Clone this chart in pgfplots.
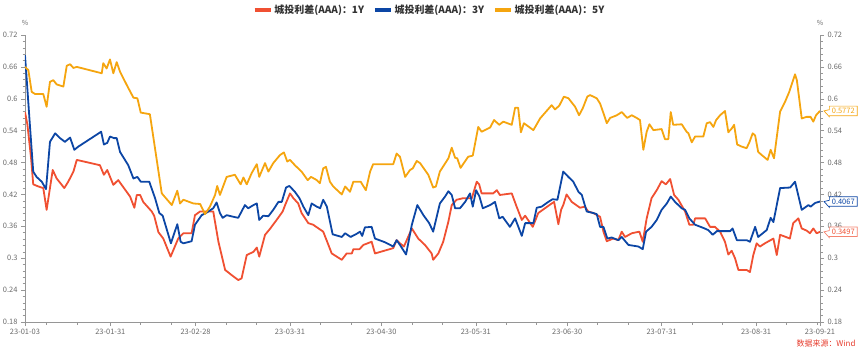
\documentclass[border=0pt]{standalone}
\usepackage{fontspec}
\setmainfont{Noto Sans CJK SC}
\usepackage{pgfplots}
\pgfplotsset{compat=1.18}
\usetikzlibrary{shapes.callouts}
\definecolor{redC}{RGB}{240,80,50}
\definecolor{blueC}{RGB}{12,70,165}
\definecolor{orangeC}{RGB}{245,165,15}
\definecolor{axisgray}{RGB}{150,150,150}
\definecolor{labelgray}{RGB}{105,105,105}
\definecolor{srcred}{RGB}{230,60,45}
\begin{document}
\begin{tikzpicture}
\useasboundingbox (0,0) rectangle (865bp,352bp);
\pgfplotsset{
  common/.style={
    at={(25bp,30bp)}, anchor=south west, scale only axis,
    width=795bp, height=287bp,
    xmin=0, xmax=261, ymin=0.18, ymax=0.72,
    ytick={0.18,0.24,0.3,0.36,0.42,0.48,0.54,0.6,0.66,0.72},
    yticklabels={0.18,0.24,0.3,0.36,0.42,0.48,0.54,0.6,0.66,0.72},
    minor y tick num=4,
    tick align=outside, major tick length=4bp, minor tick length=2.5bp,
    tick style={draw=axisgray, line width=0.5bp},
    axis line style={-, draw=axisgray, line width=0.6bp},
    tick label style={font=\fontsize{7.5}{8}\selectfont, text=labelgray},
    /pgf/number format/assume math mode=true,
  }
}
\begin{axis}[common,
  axis x line*=bottom, axis y line*=left,
  xtick={0,28,56,87,117,148,178,209,240,261},
  xticklabels={23-01-03,23-01-31,23-02-28,23-03-31,23-04-30,23-05-31,23-06-30,23-07-31,23-08-31,23-09-21},
  minor xtick={7,17,38,48,66,76,97,107,127,137,158,168,188,198,219,229,250,260},
  legend columns=3,
  legend style={draw=none, fill=none, at={(0.509,1.087)}, anchor=center,
    font=\fontsize{10}{12}\selectfont\bfseries, text=black!80,
    /tikz/every even column/.append style={column sep=7bp}},
  legend image code/.code={\draw[#1, line width=3.5bp] (0bp,0bp) -- (16bp,0bp);},
  every axis plot/.append style={line width=1.8bp, line join=round},
]
\addplot[redC] coordinates {(0,0.575)(0.8,0.551)(2.0,0.488)(2.7,0.439)(4.4,0.435)(6.0,0.432)(7.1,0.391)(9.1,0.466)(10.4,0.450)(12.9,0.432)(14.2,0.444)(15.9,0.463)(17.0,0.485)(24.6,0.475)(25.9,0.457)(27.0,0.466)(29.0,0.438)(30.6,0.447)(34.5,0.416)(35.9,0.395)(36.7,0.419)(37.8,0.419)(38.8,0.406)(41.6,0.388)(42.4,0.380)(43.8,0.349)(45.4,0.337)(47.8,0.303)(50.3,0.337)(52.0,0.347)(54.7,0.347)(55.8,0.381)(57.5,0.388)(61.8,0.388)(63.5,0.331)(65.7,0.278)(67.9,0.268)(70.0,0.259)(71.1,0.262)(72.8,0.306)(75.0,0.312)(76.1,0.320)(76.9,0.303)(78.8,0.344)(80.4,0.355)(82.6,0.372)(84.6,0.388)(85.4,0.400)(87.0,0.422)(88.1,0.413)(89.7,0.403)(90.8,0.385)(93.0,0.366)(94.6,0.363)(97.9,0.350)(99.0,0.334)(100.7,0.309)(104.0,0.297)(105.6,0.309)(107.3,0.309)(107.8,0.317)(109.8,0.317)(111.1,0.325)(113.8,0.331)(114.9,0.309)(120.9,0.319)(122.0,0.334)(123.1,0.328)(124.4,0.322)(127.0,0.356)(129.1,0.337)(131.3,0.325)(133.5,0.309)(134.0,0.297)(135.7,0.309)(137.3,0.331)(139.0,0.369)(140.1,0.400)(141.7,0.410)(143.9,0.413)(146.7,0.413)(148.3,0.444)(149.1,0.439)(149.9,0.422)(153.7,0.422)(154.9,0.428)(155.9,0.419)(159.8,0.422)(161.4,0.397)(163.1,0.372)(164.2,0.380)(166.7,0.359)(168.5,0.385)(170.7,0.394)(172.9,0.403)(173.7,0.406)(175.1,0.364)(176.0,0.391)(176.7,0.400)(177.8,0.420)(179.5,0.406)(182.2,0.395)(183.8,0.397)(184.9,0.388)(186.6,0.385)(188.8,0.378)(189.9,0.350)(191.0,0.332)(193.1,0.337)(194.8,0.334)(195.9,0.350)(197.0,0.340)(199.2,0.347)(201.7,0.350)(202.8,0.331)(204.1,0.375)(205.7,0.413)(207.4,0.428)(209.0,0.445)(210.4,0.439)(211.8,0.449)(213.1,0.419)(214.5,0.410)(216.7,0.388)(218.1,0.363)(219.4,0.363)(220.0,0.375)(223.3,0.375)(224.9,0.359)(226.5,0.359)(228.2,0.350)(229.8,0.331)(230.9,0.307)(232.0,0.314)(233.1,0.300)(234.2,0.278)(236.9,0.278)(238.0,0.274)(239.1,0.306)(240.2,0.328)(241.3,0.322)(242.9,0.328)(245.7,0.337)(246.8,0.306)(247.9,0.344)(249.8,0.340)(251.1,0.337)(252.2,0.366)(253.9,0.375)(255.0,0.356)(256.6,0.352)(257.7,0.347)(258.8,0.356)(259.9,0.347)(261,0.3497)};
\addlegendentry{城投利差(AAA)：1Y}
\addplot[blueC] coordinates {(0,0.682)(0.3,0.658)(1.6,0.551)(2.7,0.463)(3.8,0.453)(5.5,0.444)(6.9,0.430)(8.2,0.519)(9.9,0.535)(11.5,0.526)(13.1,0.519)(14.8,0.527)(16.2,0.504)(17.5,0.510)(25.0,0.538)(25.9,0.514)(27.0,0.517)(27.9,0.529)(29.2,0.526)(30.1,0.526)(31.2,0.500)(33.9,0.475)(35.6,0.450)(36.9,0.453)(38.0,0.444)(40.8,0.444)(42.7,0.413)(44.1,0.385)(45.2,0.380)(47.9,0.328)(50.0,0.364)(51.1,0.331)(52.0,0.328)(54.7,0.332)(55.8,0.363)(58.0,0.381)(59.7,0.386)(61.0,0.391)(61.8,0.394)(62.9,0.405)(64.0,0.385)(64.9,0.376)(66.2,0.381)(68.4,0.378)(70.0,0.376)(71.1,0.388)(72.2,0.400)(73.3,0.394)(75.0,0.400)(76.1,0.403)(76.9,0.372)(78.2,0.380)(79.9,0.379)(81.5,0.391)(83.2,0.406)(84.3,0.406)(85.7,0.433)(86.8,0.436)(88.6,0.425)(90.1,0.413)(91.4,0.397)(93.0,0.381)(94.1,0.403)(95.8,0.397)(96.9,0.394)(97.9,0.410)(99.1,0.397)(101.0,0.345)(104.0,0.340)(105.1,0.347)(106.9,0.340)(108.9,0.346)(110.0,0.350)(110.7,0.342)(111.6,0.358)(113.8,0.359)(114.9,0.337)(118.2,0.330)(120.9,0.322)(122.0,0.334)(123.1,0.325)(125.1,0.307)(127.0,0.363)(128.8,0.400)(130.8,0.381)(132.7,0.366)(134.0,0.350)(136.2,0.403)(137.9,0.416)(139.0,0.426)(140.1,0.419)(141.2,0.394)(142.8,0.394)(144.5,0.406)(146.1,0.422)(147.0,0.397)(148.1,0.428)(149.2,0.416)(150.3,0.394)(152.7,0.400)(154.3,0.406)(155.7,0.375)(156.8,0.378)(159.2,0.359)(160.9,0.375)(163.1,0.342)(164.2,0.366)(166.9,0.366)(168.0,0.395)(169.6,0.397)(171.8,0.406)(173.2,0.411)(174.8,0.410)(176.7,0.463)(178.4,0.453)(180.0,0.444)(181.7,0.425)(182.8,0.419)(184.4,0.388)(186.6,0.385)(187.7,0.383)(188.8,0.359)(189.9,0.359)(191.2,0.337)(192.6,0.339)(194.8,0.334)(195.9,0.340)(198.1,0.325)(201.4,0.322)(202.8,0.317)(203.9,0.350)(205.7,0.359)(207.4,0.372)(209.0,0.391)(210.7,0.403)(212.0,0.416)(213.4,0.406)(215.6,0.394)(216.7,0.391)(218.1,0.375)(220.0,0.363)(222.7,0.357)(224.3,0.353)(225.8,0.344)(227.1,0.351)(231.5,0.351)(232.3,0.356)(233.7,0.334)(236.9,0.334)(238.0,0.331)(239.7,0.359)(240.7,0.340)(243.5,0.353)(244.8,0.376)(245.7,0.368)(247.9,0.432)(251.2,0.433)(252.8,0.444)(255.0,0.391)(257.2,0.400)(257.9,0.397)(259.4,0.404)(261,0.4067)};
\addlegendentry{城投利差(AAA)：3Y}
\addplot[orangeC] coordinates {(0,0.660)(1.1,0.654)(2.2,0.613)(3.3,0.609)(6.0,0.609)(7.1,0.585)(8.2,0.632)(9.3,0.635)(10.4,0.627)(12.6,0.623)(13.7,0.662)(14.8,0.665)(15.9,0.658)(17.0,0.660)(25.2,0.648)(25.7,0.667)(26.8,0.657)(27.9,0.674)(29.0,0.648)(30.1,0.669)(31.2,0.651)(33.4,0.626)(35.6,0.602)(36.9,0.601)(38.0,0.574)(41.0,0.571)(44.9,0.422)(48.2,0.400)(50.0,0.427)(50.9,0.403)(52.0,0.410)(55.3,0.403)(57.5,0.402)(59.1,0.383)(60.7,0.397)(62.4,0.419)(63.1,0.436)(64.0,0.419)(66.2,0.453)(68.9,0.457)(70.8,0.439)(71.7,0.452)(72.8,0.439)(74.4,0.460)(76.1,0.477)(76.9,0.453)(78.8,0.479)(79.9,0.463)(81.5,0.479)(83.7,0.494)(85.0,0.499)(86.1,0.482)(87.0,0.485)(88.6,0.475)(90.8,0.463)(92.8,0.447)(93.9,0.453)(95.8,0.447)(96.8,0.441)(97.9,0.469)(98.8,0.472)(100.1,0.444)(101.2,0.435)(104.0,0.420)(105.1,0.435)(106.7,0.425)(107.8,0.444)(110.2,0.444)(111.9,0.428)(113.3,0.463)(114.3,0.477)(120.9,0.477)(122.0,0.497)(123.1,0.491)(124.8,0.453)(126.4,0.466)(127.3,0.469)(128.6,0.483)(129.7,0.479)(132.4,0.457)(134.0,0.433)(134.9,0.435)(136.2,0.463)(139.0,0.488)(140.1,0.508)(141.2,0.489)(141.9,0.488)(143.0,0.470)(145.5,0.491)(147.0,0.493)(148.8,0.547)(149.9,0.538)(152.7,0.546)(154.0,0.560)(155.7,0.551)(157.0,0.557)(159.8,0.551)(160.9,0.583)(161.9,0.583)(162.8,0.537)(163.8,0.554)(166.9,0.541)(169.1,0.563)(172.9,0.588)(174.0,0.580)(175.4,0.587)(176.9,0.604)(178.4,0.601)(180.6,0.585)(181.9,0.569)(183.1,0.582)(184.6,0.604)(185.5,0.607)(187.7,0.601)(188.8,0.591)(189.9,0.573)(191.0,0.554)(192.1,0.564)(194.3,0.569)(195.9,0.575)(197.7,0.564)(199.2,0.569)(200.8,0.564)(201.9,0.560)(203.0,0.504)(204.1,0.538)(205.0,0.552)(206.3,0.541)(209.0,0.543)(210.1,0.524)(211.2,0.524)(212.0,0.575)(212.8,0.551)(215.6,0.552)(217.2,0.538)(217.8,0.535)(218.9,0.518)(220.0,0.529)(222.7,0.529)(223.8,0.554)(224.9,0.556)(226.0,0.547)(226.9,0.560)(228.2,0.569)(229.8,0.577)(230.9,0.537)(232.0,0.544)(232.8,0.551)(233.8,0.514)(235.3,0.510)(236.9,0.507)(237.8,0.518)(238.9,0.535)(239.7,0.531)(240.7,0.500)(241.9,0.494)(243.8,0.485)(244.8,0.504)(245.9,0.488)(247.9,0.576)(249.5,0.594)(250.9,0.613)(252.8,0.646)(253.4,0.635)(255.0,0.563)(256.6,0.566)(257.9,0.566)(258.8,0.557)(259.7,0.569)(261,0.5772)};
\addlegendentry{城投利差(AAA)：5Y}
\coordinate (e1) at (axis cs:261,0.3497);
\coordinate (e3) at (axis cs:261,0.4067);
\coordinate (e5) at (axis cs:261,0.5772);
\end{axis}
\begin{axis}[common,
  axis x line=none, axis y line*=right,
]
\end{axis}
\node[font=\fontsize{7}{8}\selectfont, text=labelgray] at (25bp,329bp) {\%};
\node[font=\fontsize{7}{8}\selectfont, text=labelgray] at (820bp,329bp) {\%};
\tikzset{endlab/.style={rectangle callout, fill=white, line width=0.7bp,
  font=\fontsize{7.5}{8}\selectfont, inner xsep=2.5bp, inner ysep=2bp, anchor=west}}
\node[endlab, draw=orangeC, text=orangeC, callout absolute pointer={([xshift=4bp]e5)}] at ([xshift=9bp]e5) {0.5772};
\node[endlab, draw=blueC, text=blueC, callout absolute pointer={([xshift=4bp]e3)}] at ([xshift=9bp]e3) {0.4067};
\node[endlab, draw=redC!70, text=redC, callout absolute pointer={([xshift=4bp]e1)}] at ([xshift=9bp]e1) {0.3497};
\node[anchor=east, font=\fontsize{8}{9}\selectfont, text=srcred] at (859bp,9bp) {数据来源：Wind};
\end{tikzpicture}
\end{document}
